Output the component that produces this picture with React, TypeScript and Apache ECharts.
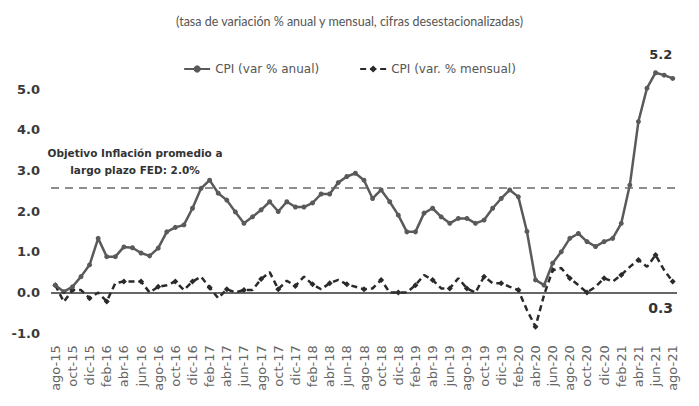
import React, { useEffect, useRef } from "react";
import * as echarts from "echarts";

const SUBTITLE = "(tasa de variación % anual y mensual, cifras desestacionalizadas)";
const SERIES_ANNUAL = "CPI (var % anual)";
const SERIES_MONTHLY = "CPI (var. % mensual)";
const TARGET_NOTE = "Objetivo Inflación promedio a\nlargo plazo FED: 2.0%";
const TARGET_LINE = 2.58;
const LAST_ANNUAL_LABEL = "5.2";
const LAST_MONTHLY_LABEL = "0.3";

const MONTH_ABBR = ["ene", "feb", "mar", "abr", "may", "jun", "jul", "ago", "sep", "oct", "nov", "dic"];
const START_YEAR = 2015;
const START_MONTH = 7; // ago
const N_MONTHS = 73; // ago-15 .. ago-21

const categories: string[] = [];
for (let i = 0; i < N_MONTHS; i++) {
  const m = (START_MONTH + i) % 12;
  const y = START_YEAR + Math.floor((START_MONTH + i) / 12);
  categories.push(`${MONTH_ABBR[m]}-${String(y).slice(2)}`);
}

const annual = [
  0.18, 0.02, 0.14, 0.39, 0.68, 1.33, 0.88, 0.88, 1.12, 1.1, 0.97, 0.9,
  1.09, 1.49, 1.6, 1.66, 2.07, 2.56, 2.76, 2.44, 2.27, 1.98, 1.7, 1.86,
  2.03, 2.23, 1.99, 2.23, 2.1, 2.1, 2.2, 2.42, 2.42, 2.7, 2.85, 2.93,
  2.76, 2.31, 2.52, 2.23, 1.9, 1.49, 1.49, 1.95, 2.07, 1.86, 1.7, 1.82,
  1.82, 1.7, 1.78, 2.07, 2.31, 2.52, 2.35, 1.5, 0.31, 0.18, 0.72, 1.0,
  1.33, 1.45, 1.25, 1.13, 1.25, 1.33, 1.7, 2.64, 4.2, 5.02, 5.4, 5.34,
  5.26,
];

const monthly = [
  0.18, -0.23, 0.06, 0.06, -0.14, 0.0, -0.22, 0.23, 0.27, 0.27, 0.27, 0.0,
  0.14, 0.18, 0.27, 0.06, 0.27, 0.39, 0.12, -0.14, 0.08, 0.0, 0.06, 0.06,
  0.33, 0.5, 0.08, 0.29, 0.16, 0.39, 0.2, 0.08, 0.23, 0.31, 0.2, 0.14,
  0.08, 0.1, 0.31, 0.0, 0.0, 0.0, 0.18, 0.43, 0.31, 0.1, 0.1, 0.35,
  0.1, 0.0, 0.39, 0.23, 0.23, 0.14, 0.06, -0.43, -0.84, -0.06, 0.55, 0.6,
  0.35, 0.18, 0.0, 0.14, 0.35, 0.27, 0.43, 0.63, 0.8, 0.63, 0.92, 0.55,
  0.27,
];

const Y_MIN = -1;
const Y_MAX = 5.5;
const Y_INTERVAL = 1;

export default function App() {
  const ref = useRef<HTMLDivElement>(null);
  useEffect(() => {
    if (!ref.current) return;
    const chart = echarts.init(ref.current, undefined, { renderer: "svg" });
    const last = N_MONTHS - 1;
    const annualData = annual.map((v, i) =>
      i === last
        ? {
            value: v,
            label: {
              show: true,
              position: "top",
              offset: [-12, -10],
              formatter: LAST_ANNUAL_LABEL,
              fontFamily: "DejaVu Sans",
              fontWeight: "bold",
              fontSize: 13,
              color: "#333",
            },
          }
        : v
    );
    const monthlyData = monthly.map((v, i) =>
      i === last
        ? {
            value: v,
            label: {
              show: true,
              position: "bottom",
              offset: [-12, 11],
              formatter: LAST_MONTHLY_LABEL,
              fontFamily: "DejaVu Sans",
              fontWeight: "bold",
              fontSize: 14,
              color: "#333",
            },
          }
        : v
    );
    chart.setOption({
      animation: false,
      backgroundColor: "#fff",
      title: {
        text: SUBTITLE,
        left: "center",
        top: 10,
        textStyle: { fontFamily: "Lato", fontSize: 12.5, fontWeight: "normal", color: "#555" },
      },
      legend: {
        top: 58,
        left: "center",
        itemWidth: 26,
        itemHeight: 9,
        itemGap: 40,
        textStyle: { fontFamily: "DejaVu Sans", fontSize: 12, color: "#555" },
        data: [SERIES_ANNUAL, SERIES_MONTHLY],
      },
      grid: { left: 51, right: 22, top: 68.65, bottom: 72.8, containLabel: false },
      xAxis: {
        type: "category",
        data: categories,
        boundaryGap: true,
        axisLine: { show: false },
        axisTick: { show: false },
        axisLabel: {
          interval: 1,
          rotate: 90,
          margin: 12,
          fontFamily: "DejaVu Sans",
          fontSize: 13,
          color: "#666",
        },
      },
      yAxis: {
        type: "value",
        min: Y_MIN,
        max: Y_MAX,
        interval: Y_INTERVAL,
        splitLine: { show: false },
        axisLine: { show: false },
        axisTick: { show: false },
        axisLabel: {
          showMaxLabel: false,
          margin: 11,
          formatter: (v: number) => v.toFixed(1),
          fontFamily: "DejaVu Sans",
          fontWeight: "bold",
          fontSize: 13,
          color: "#3a3a3a",
        },
      },
      graphic: [
        {
          type: "text",
          x: 135,
          y: 144,
          style: {
            text: TARGET_NOTE,
            fontFamily: "DejaVu Sans",
            fontWeight: "bold",
            fontSize: 10.5,
            lineHeight: 17,
            fill: "#333",
            align: "center",
            textAlign: "center",
          },
        },
      ],
      series: [
        {
          name: SERIES_ANNUAL,
          type: "line",
          data: annualData,
          symbol: "circle",
          symbolSize: 5,
          color: "#5a5a5a",
          lineStyle: { width: 2.5, color: "#5a5a5a" },
          itemStyle: { color: "#5a5a5a" },
          z: 3,
          markLine: {
            silent: true,
            symbol: "none",
            label: { show: false },
            lineStyle: { type: [8, 6], color: "#6a6a6a", width: 1.5 },
            data: [{ yAxis: TARGET_LINE }],
          },
        },
        {
          name: SERIES_MONTHLY,
          type: "line",
          data: monthlyData,
          symbol: "diamond",
          symbolSize: 6,
          color: "#2a2a2a",
          lineStyle: { width: 2.5, type: [6, 4], color: "#2a2a2a" },
          itemStyle: { color: "#2a2a2a" },
          z: 2,
          markLine: {
            silent: true,
            symbol: "none",
            label: { show: false },
            lineStyle: { type: "solid", color: "#333", width: 1.5 },
            data: [{ yAxis: 0 }],
          },
        },
      ],
    });
    return () => chart.dispose();
  }, []);
  return (
    <div
      ref={ref}
      style={{ position: "fixed", left: 0, top: 0, width: 699, height: 406, background: "#fff" }}
    />
  );
}
